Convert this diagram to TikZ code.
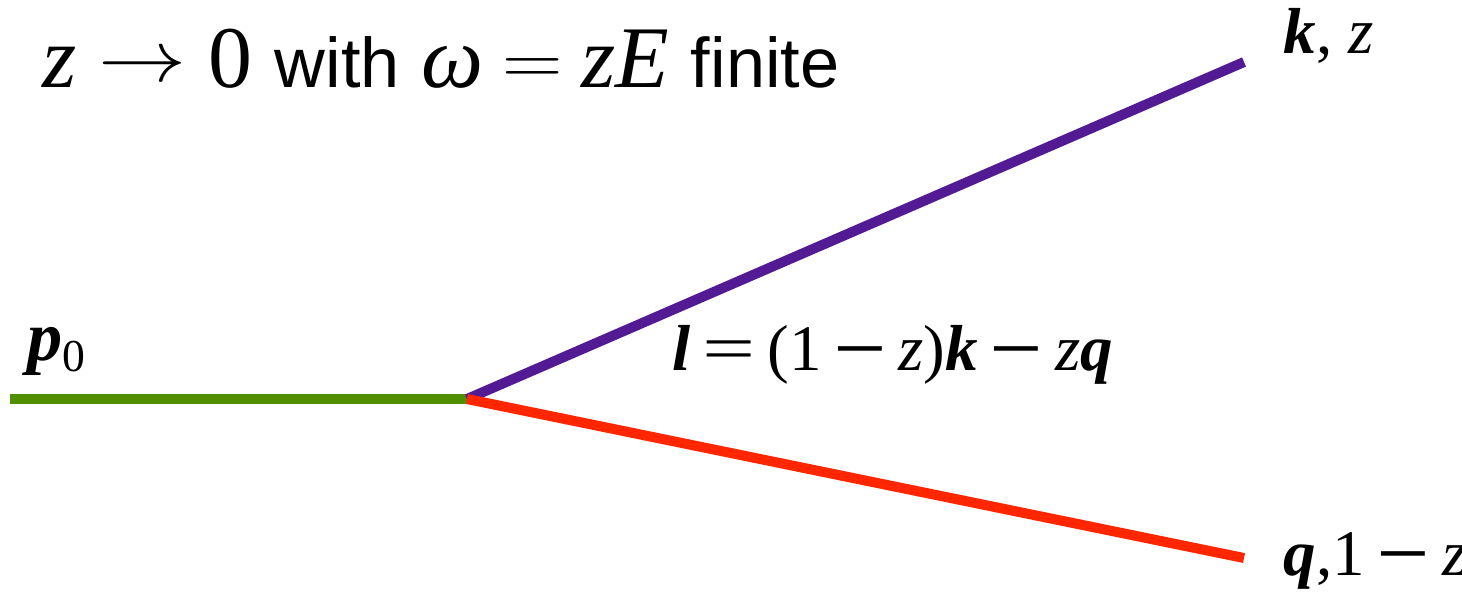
\documentclass[tikz,border=0pt]{standalone}
\usepackage{fontspec}
\setmainfont{Liberation Serif}
\newfontfamily\wordfont{Liberation Sans}
\usepackage{graphicx}
\usepackage{tikz}
\usetikzlibrary{positioning}

\definecolor{legGreen}{HTML}{4F8F00}
\definecolor{legPurple}{HTML}{531B93}
\definecolor{legRed}{HTML}{FF2600}

\newcommand{\bv}[1]{\textbf{\textit{#1}}}
\newcommand{\iv}[1]{\textit{#1}}
\newcommand{\subzero}{\raisebox{-0.35ex}{\fontsize{13}{15}\selectfont 0}}
\newcommand{\mminus}{\kern-0.07em\scalebox{1.45}[1]{\textbf{−}}\kern-0.07em}
\newcommand{\mequal}{\kern-0.07em\scalebox{1.45}[1]{=}\kern-0.07em}
\newcommand{\tarrow}{\raisebox{1.5pt}{\fontsize{19}{20}\selectfont\scalebox{1.45}[1.2]{$\rightarrow$}}}
\newcommand{\tequal}{\kern-0.04em\raisebox{0.7pt}{\fontsize{22}{24}\selectfont\scalebox{1.15}[1]{$=$}}\kern-0.04em}

\begin{document}
\begin{tikzpicture}[leg/.style={line width=2.85pt}, lab/.style={inner sep=0pt, font=\fontsize{18.5}{22}\selectfont}]
        \useasboundingbox (0,0) rectangle (14.62,5.99);
        % vertex and end points
        \coordinate (in) at (0.10,2.00);
        \coordinate (vtx) at (4.67,2.00);
        \coordinate (kend) at (12.44,5.37);
        \coordinate (qend) at (12.44,0.41);
        % legs
        \draw[leg, legGreen] (in) -- (vtx);
        \draw[leg, legPurple] (vtx) -- (kend);
        \draw[leg, legRed] (vtx) -- (qend);
        % labels
        \node[lab, anchor=base west, font=\fontsize{20}{24}\selectfont] (p0) at (0.27,2.39) {\bv{p}\subzero};
        \node[lab, anchor=base west] (kz) at (12.83,5.46) {\bv{k}, \iv{z}};
        \node[lab, anchor=base west] (lmom) at (6.72,2.29) {\bv{l} \mequal{} (1 \mminus{} \iv{z})\bv{k} \mminus{} \iv{z}\bv{q}};
        \node[lab, anchor=base west] (qz) at (12.83,0.24) {\bv{q},1 \mminus{} \iv{z}};
        % title
        \node[inner sep=0pt, anchor=base west, font=\fontsize{25}{28}\selectfont] (title) at (0.42,5.12)
            {\iv{z} \tarrow{} 0 {\wordfont\fontsize{20}{24}\selectfont with} \iv{ω} \tequal{} \iv{zE} {\wordfont\fontsize{20}{24}\selectfont finite}};
    \end{tikzpicture}
\end{document}
